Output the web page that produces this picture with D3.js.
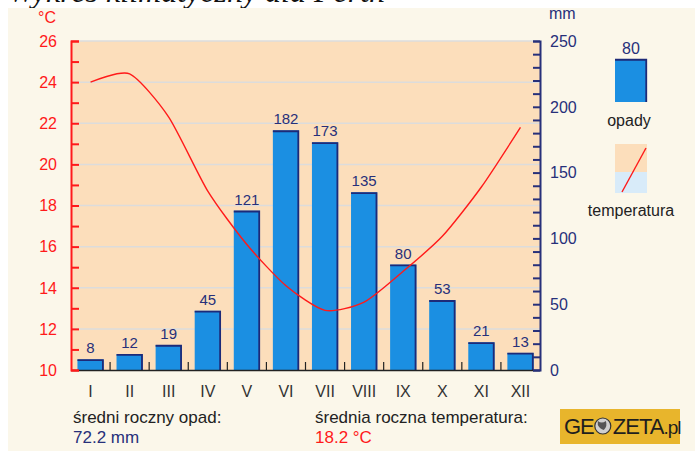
<!DOCTYPE html>
<html>
<head>
<meta charset="utf-8">
<script src="https://cdn.jsdelivr.net/npm/d3@7/dist/d3.min.js"></script>
<style>
html,body{margin:0;padding:0;background:#fff;}
svg{display:block;font-family:"Liberation Sans",Arial,sans-serif;}
</style>
</head>
<body>
<svg id="chart" width="695" height="451"></svg>
<script>
// ---- data ----
const months = ["I","II","III","IV","V","VI","VII","VIII","IX","X","XI","XII"];
const precipitation = [8,12,19,45,121,182,173,135,80,53,21,13];
const temperature = [24.0,24.4,22.3,18.7,16.1,14.1,12.9,13.3,14.8,16.5,18.9,21.8];
const tempTicks = [10,12,14,16,18,20,22,24,26];
const precipTicks = [0,50,100,150,200,250];
const title = "Wykres klimatyczny dla Perth";
const avgPrecipLabel = "średni roczny opad:";
const avgPrecipValue = "72.2 mm";
const avgTempLabel = "średnia roczna temperatura:";
const avgTempValue = "18.2 °C";
const legendSampleValue = 80;

// ---- layout ----
const svg = d3.select("#chart");
const L = 71, R = 540, T = 41, B = 370;
const cRed = "#ff1a1a", cNavy = "#27307a", cBar = "#1b8fe2", cBarEdge = "#1d2a78";

// title (cut off at top, as in the reference)
svg.append("text").attr("x",8).attr("y",2).attr("font-family","'Liberation Serif',serif")
  .attr("font-size",32).attr("font-style","italic").attr("fill","#111").text(title);
// panel background
svg.append("rect").attr("x",8).attr("y",8).attr("width",687).attr("height",443).attr("fill","#fbf7ea");

// plot area
svg.append("rect").attr("x",L).attr("y",T).attr("width",R-L).attr("height",B-T).attr("fill","#fcdebb");

const x = d3.scaleBand().domain(months).range([L,R]).paddingInner(0.33).paddingOuter(0.165);
const yT = d3.scaleLinear().domain([10,26]).range([B,T]);
const yP = d3.scaleLinear().domain([0,250]).range([B,T]);

// gridlines
svg.append("g").selectAll("line").data(tempTicks.filter(d=>d>10)).join("line")
  .attr("x1",L).attr("x2",R).attr("y1",d=>yT(d)).attr("y2",d=>yT(d))
  .attr("stroke","#dcdcdc").attr("stroke-width",1.5);

// bars
const bars = svg.append("g");
months.forEach((m,i)=>{
  const x0 = x(m), w = x.bandwidth(), y0 = yP(precipitation[i]);
  bars.append("rect").attr("x",x0).attr("y",y0).attr("width",w).attr("height",B-y0).attr("fill",cBar);
  bars.append("path").attr("d",`M${x0},${y0+0.75}H${x0+w-0.75}V${B}`)
    .attr("fill","none").attr("stroke",cBarEdge).attr("stroke-width",1.8);
  bars.append("text").attr("x",x0+w/2).attr("y",y0-6).attr("text-anchor","middle")
    .attr("font-size",15).attr("fill",cNavy).text(precipitation[i]);
});

// x axis
const xAxis = d3.axisBottom(x).tickSize(0).tickPadding(16);
const gx = svg.append("g").attr("transform",`translate(0,${B})`).call(xAxis);
gx.select(".domain").attr("stroke","#222").attr("stroke-width",1.5);
gx.selectAll("text").attr("font-size",16).attr("fill","#333").attr("font-family","'Liberation Sans',Arial,sans-serif");
// boundary ticks
svg.append("g").selectAll("line").data(d3.range(1,12)).join("line")
  .attr("x1",i=>L+i*x.step()).attr("x2",i=>L+i*x.step()).attr("y1",B).attr("y2",B-8)
  .attr("stroke","#222").attr("stroke-width",1.2);

// temperature line
const line = d3.line().x((d,i)=>x(months[i])+x.bandwidth()/2).y(d=>yT(d)).curve(d3.curveCardinal.tension(0.3));
svg.append("path").datum(temperature).attr("d",line).attr("fill","none").attr("stroke",cRed).attr("stroke-width",1.4);

// left axis
const gl = svg.append("g").attr("transform",`translate(${L},0)`)
  .call(d3.axisRight(yT).tickValues(d3.range(10,26.01,1)).tickSize(8).tickFormat(""));
gl.select(".domain").attr("stroke",cRed).attr("stroke-width",2);
gl.selectAll(".tick line").attr("stroke",cRed).attr("stroke-width",2);
svg.append("g").selectAll("text").data(tempTicks).join("text")
  .attr("x",57).attr("y",d=>yT(d)).attr("dy","0.36em").attr("text-anchor","end")
  .attr("font-size",16).attr("fill",cRed).text(d=>d);
svg.append("text").attr("x",38).attr("y",23).attr("font-size",16).attr("fill",cRed).text("°C");

// right axis
const gr = svg.append("g").attr("transform",`translate(${R},0)`)
  .call(d3.axisLeft(yP).tickValues(d3.range(0,250.1,10)).tickSize(7).tickFormat(""));
gr.select(".domain").attr("stroke",cNavy).attr("stroke-width",2);
gr.selectAll(".tick line").attr("stroke",cNavy).attr("stroke-width",2);
svg.append("g").selectAll("text").data(precipTicks).join("text")
  .attr("x",550).attr("y",d=>yP(d)).attr("dy","0.36em").attr("text-anchor","start")
  .attr("font-size",16).attr("fill",cNavy).text(d=>d);
svg.append("text").attr("x",549).attr("y",19).attr("font-size",16).attr("fill",cNavy).text("mm");

// legend: precipitation
const lx = 615, lw = 32;
svg.append("rect").attr("x",lx).attr("y",59).attr("width",lw).attr("height",43).attr("fill",cBar);
svg.append("path").attr("d",`M${lx},59.75H${lx+lw-0.75}V102`).attr("fill","none").attr("stroke",cBarEdge).attr("stroke-width",1.8);
svg.append("text").attr("x",lx+lw/2).attr("y",54).attr("text-anchor","middle").attr("font-size",16).attr("fill",cNavy).text(legendSampleValue);
svg.append("text").attr("x",lx+lw/2-2).attr("y",126).attr("text-anchor","middle").attr("font-size",16).attr("fill","#222").text("opady");
// legend: temperature
svg.append("rect").attr("x",lx).attr("y",144).attr("width",lw).attr("height",28).attr("fill","#fcdebb");
svg.append("rect").attr("x",lx).attr("y",172).attr("width",lw).attr("height",21).attr("fill","#d8ebf9");
svg.append("line").attr("x1",lx+7).attr("y1",192).attr("x2",lx+31).attr("y2",148).attr("stroke",cRed).attr("stroke-width",1.4);
svg.append("text").attr("x",lx+lw/2).attr("y",216).attr("text-anchor","middle").attr("font-size",16).attr("fill","#222").text("temperatura");

// averages
svg.append("text").attr("x",73).attr("y",423).attr("font-size",17).attr("fill","#222").text(avgPrecipLabel);
svg.append("text").attr("x",73).attr("y",443).attr("font-size",17).attr("fill",cNavy).text(avgPrecipValue);
svg.append("text").attr("x",315).attr("y",423).attr("font-size",17).attr("fill","#222").text(avgTempLabel);
svg.append("text").attr("x",315).attr("y",443).attr("font-size",17).attr("fill",cRed).text(avgTempValue);

// logo
const logo = svg.append("g");
logo.append("rect").attr("x",560).attr("y",409).attr("width",120).attr("height",35).attr("fill","#e8b52c");
const lt = logo.append("text").attr("x",564).attr("y",434).attr("font-size",22).attr("fill","#1e1e1e").attr("letter-spacing",-1);
lt.append("tspan").text("GE");
lt.append("tspan").attr("dx",19).text("ZETA");
lt.append("tspan").attr("font-size",19).text(".pl");
const geW = lt.select("tspan").node().getComputedTextLength();
logo.append("circle").attr("cx",564+geW+9).attr("cy",426).attr("r",8).attr("fill","#cfcfcf").attr("stroke","#333").attr("stroke-width",1.2);
logo.append("path").attr("d",`M${564+geW+4},${421}q4,3 8,0q2,5 -2,9q-4,-1 -6,-5z`).attr("fill","#555");
</script>
</body>
</html>
